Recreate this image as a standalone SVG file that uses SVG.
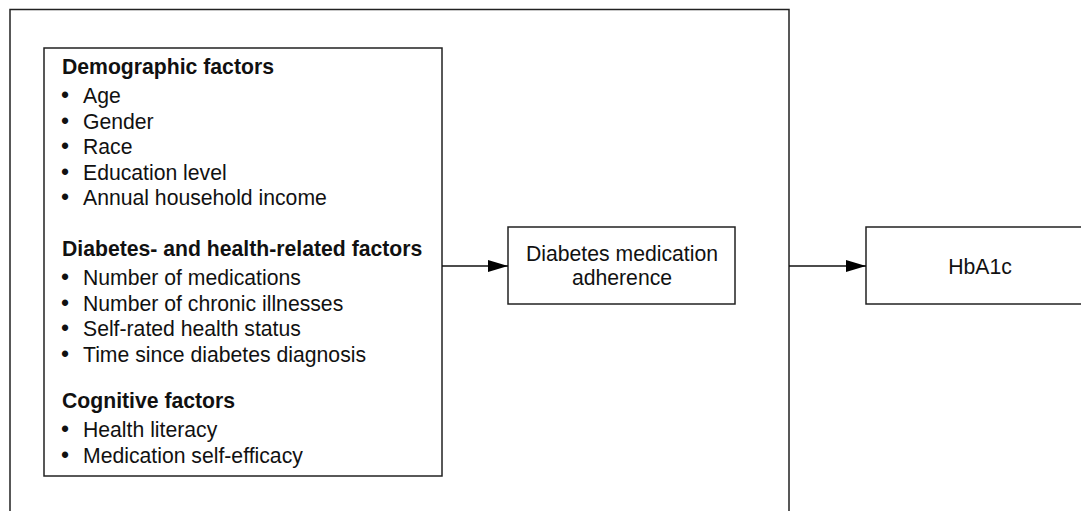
<svg xmlns="http://www.w3.org/2000/svg" width="1081" height="511" viewBox="0 0 1081 511">
<defs>
<style>
text{font-family:"Liberation Sans",Arial,sans-serif;font-size:21.2px;fill:#111}
.h{font-weight:bold}
.b{font-size:23px}
.box{fill:#fff;stroke:#222;stroke-width:1.5}
.edge{fill:none;stroke:#111;stroke-width:1.5}
</style>
<marker id="arr" markerWidth="20" markerHeight="12" refX="20" refY="6" orient="auto" markerUnits="userSpaceOnUse">
<path d="M0,0 L20,6 L0,12 Z" fill="#000"/>
</marker>
</defs>
<rect width="1081" height="511" fill="#fff"/>
<g id="outer">
<path d="M10,512 V9.5 H789 V512" fill="none" stroke="#222" stroke-width="1.5"/>
</g>
<g id="factors">
<rect class="box" x="44" y="48" width="398" height="428"/>
<text class="h" x="62" y="74">Demographic factors</text>
<text class="b" x="61" y="103">•</text><text x="83" y="103">Age</text>
<text class="b" x="61" y="128.5">•</text><text x="83" y="128.5">Gender</text>
<text class="b" x="61" y="154">•</text><text x="83" y="154">Race</text>
<text class="b" x="61" y="179.5">•</text><text x="83" y="179.5">Education level</text>
<text class="b" x="61" y="205">•</text><text x="83" y="205">Annual household income</text>
<text class="h" x="62" y="256">Diabetes- and health-related factors</text>
<text class="b" x="61" y="285">•</text><text x="83" y="285">Number of medications</text>
<text class="b" x="61" y="310.5">•</text><text x="83" y="310.5">Number of chronic illnesses</text>
<text class="b" x="61" y="336">•</text><text x="83" y="336">Self-rated health status</text>
<text class="b" x="61" y="361.5">•</text><text x="83" y="361.5">Time since diabetes diagnosis</text>
<text class="h" x="62" y="408">Cognitive factors</text>
<text class="b" x="61" y="437">•</text><text x="83" y="437">Health literacy</text>
<text class="b" x="61" y="462.5">•</text><text x="83" y="462.5">Medication self-efficacy</text>
</g>
<g id="adherence">
<rect class="box" x="508" y="227" width="227" height="77"/>
<text x="622" y="261" text-anchor="middle">Diabetes medication</text>
<text x="622" y="285" text-anchor="middle">adherence</text>
</g>
<g id="hba1c">
<rect class="box" x="866" y="227" width="240" height="77"/>
<text x="980" y="274" text-anchor="middle">HbA1c</text>
</g>
<g id="connectors">
<line class="edge" x1="442" y1="266" x2="508" y2="266" marker-end="url(#arr)"/>
<line class="edge" x1="789" y1="266" x2="866" y2="266" marker-end="url(#arr)"/>
</g>
</svg>
